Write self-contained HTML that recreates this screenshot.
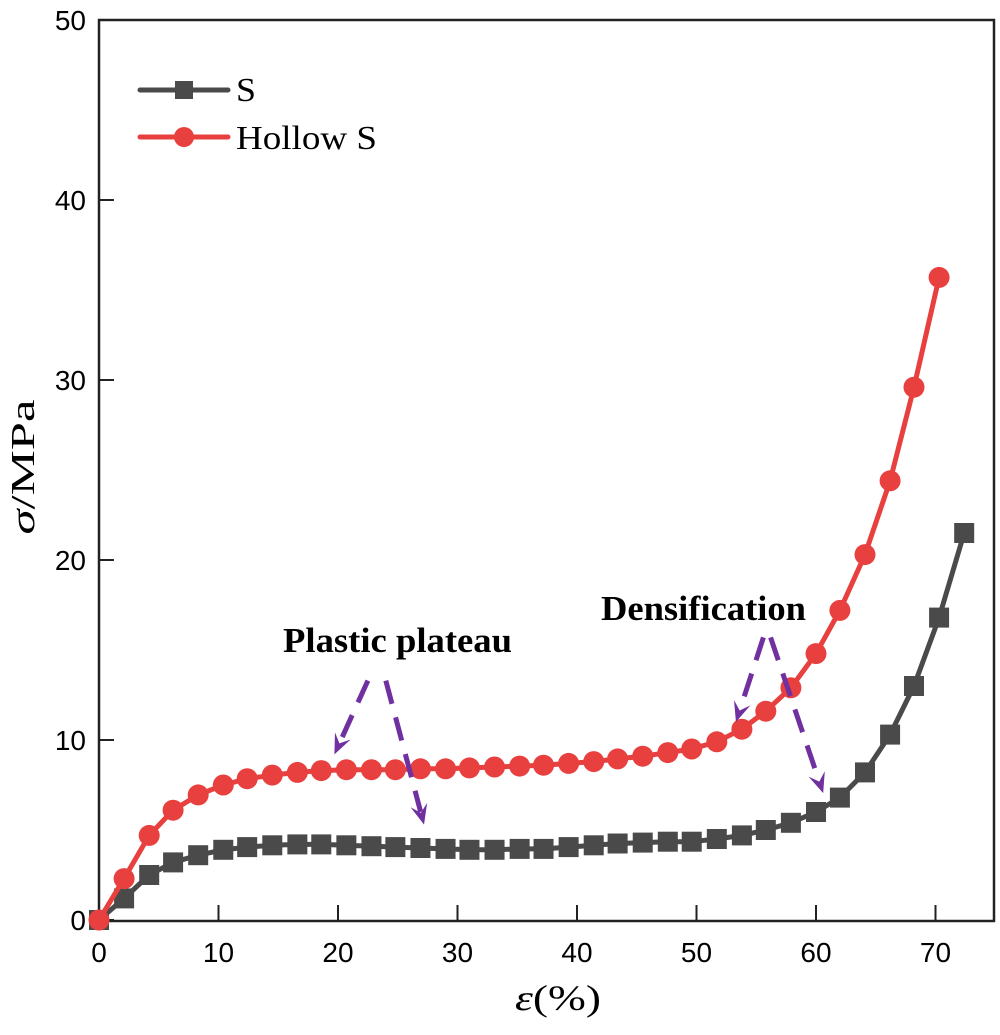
<!DOCTYPE html>
<html><head><meta charset="utf-8"><style>
body{margin:0;background:#fff;}
svg text{font-family:"Liberation Sans",Arial,sans-serif;}
.serif{font-family:"Liberation Serif","Times New Roman",serif !important;}
</style></head><body>
<svg id="chart" width="1000" height="1030" xmlns="http://www.w3.org/2000/svg">
<rect x="99" y="20" width="895" height="901" fill="none" stroke="#222" stroke-width="2.5"/>
<g id="ticks"></g>
<g id="series"></g>
<g>
 <line x1="140" y1="90" x2="228" y2="90" stroke="#4a4a4a" stroke-width="5" stroke-linecap="round"/>
 <rect x="175" y="81" width="18" height="18" fill="#4a4a4a"/>
 <text class="serif" x="236" y="101" font-size="34" textLength="20" lengthAdjust="spacingAndGlyphs">S</text>
 <line x1="140" y1="137" x2="228" y2="137" stroke="#e8403f" stroke-width="5" stroke-linecap="round"/>
 <circle cx="184" cy="137" r="10" fill="#e8403f"/>
 <text class="serif" x="236" y="149" font-size="34" textLength="141" lengthAdjust="spacingAndGlyphs">Hollow S</text>
</g>
<text class="serif" transform="translate(34,467) rotate(-90)" text-anchor="middle" font-size="34" textLength="135" lengthAdjust="spacingAndGlyphs"><tspan font-style="italic">σ</tspan>/MPa</text>
<text class="serif" x="558" y="1010" text-anchor="middle" font-size="36" textLength="86" lengthAdjust="spacingAndGlyphs"><tspan font-style="italic">ε</tspan>(%)</text>
<text class="serif" x="283" y="652" font-size="35" font-weight="bold" textLength="229" lengthAdjust="spacingAndGlyphs">Plastic plateau</text>
<text class="serif" x="601" y="620" font-size="35" font-weight="bold" textLength="205" lengthAdjust="spacingAndGlyphs">Densification</text>
<g id="arrows"></g>
</svg>
<script>
const xTicks=[0,10,20,30,40,50,60,70];
const yTicks=[0,10,20,30,40,50];
const sStrain=[0,2.1,4.2,6.2,8.3,10.4,12.4,14.5,16.6,18.6,20.7,22.8,24.8,26.9,29,31,33.1,35.2,37.2,39.3,41.4,43.4,45.5,47.6,49.6,51.7,53.8,55.8,57.9,60,62,64.1,66.2,68.2,70.3,72.4];
const sStress=[0,1.2,2.5,3.2,3.6,3.9,4.05,4.15,4.2,4.2,4.15,4.1,4.05,4.0,3.95,3.9,3.9,3.95,3.95,4.05,4.15,4.25,4.3,4.35,4.35,4.5,4.7,5.0,5.4,6.0,6.8,8.2,10.3,13.0,16.8,21.5];
const hStrain=[0,2.1,4.2,6.2,8.3,10.4,12.4,14.5,16.6,18.6,20.7,22.8,24.8,26.9,29,31,33.1,35.2,37.2,39.3,41.4,43.4,45.5,47.6,49.6,51.7,53.8,55.8,57.9,60,62,64.1,66.2,68.2,70.3];
const hStress=[0,2.3,4.7,6.1,6.95,7.5,7.85,8.05,8.2,8.3,8.35,8.35,8.35,8.4,8.4,8.45,8.5,8.55,8.6,8.7,8.8,8.95,9.1,9.3,9.5,9.9,10.6,11.6,12.9,14.8,17.2,20.3,24.4,29.6,35.7];
const arrowStart=[[22.5,13.3],[24.0,13.3],[55.6,15.7],[56.2,15.7]];
const arrowTip=[[19.7,9.2],[27.2,5.3],[53.3,11.0],[60.6,7.05]];
const NS="http://www.w3.org/2000/svg";
const X=v=>99+v*11.95, Y=v=>920-v*18;
function mk(t,a,p){const e=document.createElementNS(NS,t);for(const k in a)e.setAttribute(k,a[k]);p.appendChild(e);return e;}
const tg=document.getElementById('ticks');
xTicks.forEach(v=>{
 const l=mk('line',{x1:X(v),x2:X(v),y1:920,y2:905,stroke:'#222','stroke-width':2},tg);
 
 
 const t=mk('text',{x:X(v),y:962,'text-anchor':'middle','font-size':28},tg);t.textContent=v;
 
 
});
yTicks.forEach(v=>{
 const l=mk('line',{x1:99,x2:114,y1:Y(v),y2:Y(v),stroke:'#222','stroke-width':2},tg);
 
 
 const t=mk('text',{x:86,y:Y(v)+10,'text-anchor':'end','font-size':28},tg);t.textContent=v;
 
 
});
const sg=document.getElementById('series');
function series(xs,ys,col,name,sq){
 const p=mk('polyline',{points:xs.map((x,i)=>X(x)+','+Y(ys[i])).join(' '),fill:'none',stroke:col,'stroke-width':5,'stroke-linejoin':'round'},sg);
 
 
 xs.forEach((x,i)=>{
  const m=sq?mk('rect',{x:X(x)-10,y:Y(ys[i])-10,width:20,height:20,fill:col},sg):mk('circle',{cx:X(x),cy:Y(ys[i]),r:10.5,fill:col},sg);
  
  
 });
}
series(sStrain,sStress,'#4a4a4a','s',true);
series(hStrain,hStress,'#e8403f','hollow-s',false);
const ag=document.getElementById('arrows');
arrowStart.forEach((a,i)=>{
 const x1=X(a[0]),y1=Y(a[1]),x2=X(arrowTip[i][0]),y2=Y(arrowTip[i][1]);
 const ang=Math.atan2(y2-y1,x2-x1),L=22;
 const ex=x2-L*0.6*Math.cos(ang),ey=y2-L*0.6*Math.sin(ang);
 const l=mk('line',{x1:x1,y1:y1,x2:ex,y2:ey,stroke:'#7030a0','stroke-width':5,'stroke-dasharray':'24,14'},ag);
 
 
 const pts=[[x2,y2],[x2-L*Math.cos(ang-0.4),y2-L*Math.sin(ang-0.4)],[x2-L*0.55*Math.cos(ang),y2-L*0.55*Math.sin(ang)],[x2-L*Math.cos(ang+0.4),y2-L*Math.sin(ang+0.4)]];
 const h=mk('polygon',{points:pts.map(p=>p.join(',')).join(' '),fill:'#7030a0'},ag);
 
 
});
</script>
</body></html>
